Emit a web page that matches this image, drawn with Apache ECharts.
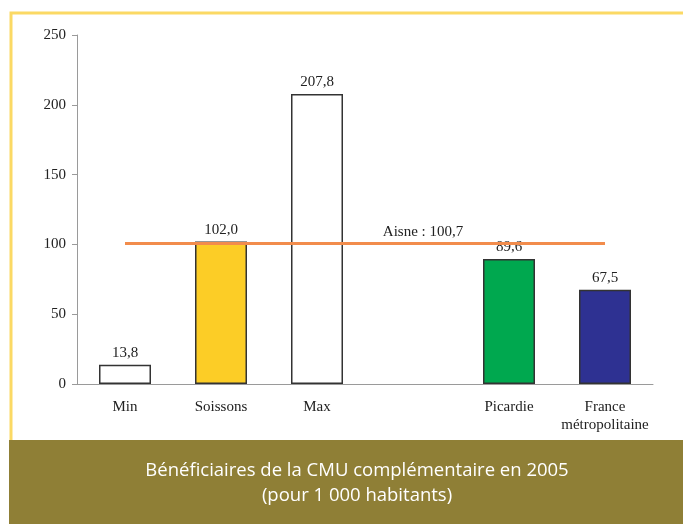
<!DOCTYPE html>
<html>
<head>
<meta charset="utf-8">
<script src="https://cdn.jsdelivr.net/npm/echarts@6/dist/echarts.min.js"></script>
<style>
html,body{margin:0;padding:0;background:#fff;}
#main{width:683px;height:524px;}
</style>
</head>
<body>
<div id="main"></div>
<script>
var categories = ['Min', 'Soissons', 'Max', '', 'Picardie', 'France\nmétropolitaine'];
var values = [13.8, 102.0, 207.8, '-', 89.6, 67.5];
var barColors = ['#ffffff', '#fccd26', '#ffffff', '#ffffff', '#00a84f', '#2e3192'];
var aisneValue = 100.7;
var aisneLabel = 'Aisne';
var yTicks = {min: 0, max: 250, interval: 50};

function frNum(v){
    return Number(v).toFixed(1).replace('.', ',');
}

var dom = document.getElementById('main');
var myChart = echarts.init(dom);

var barData = [];
var aisnePoint = [];
for (var i = 0; i < categories.length; i++) {
    barData.push({
        value: values[i],
        itemStyle: {color: barColors[i]}
    });
    // label of the reference line sits over the empty slot
    aisnePoint.push(categories[i] === '' ? aisneValue : '-');
}

var serif = '"Liberation Serif", "Times New Roman", serif';

var option = {
    animation: false,
    backgroundColor: '#ffffff',
    title: {
        text: 'Bénéficiaires de la CMU complémentaire en 2005\n(pour 1 000 habitants)',
        left: 352,
        textAlign: 'center',
        top: 453,
        textStyle: {
            color: '#ffffff',
            fontFamily: '"Open Sans", sans-serif',
            fontWeight: 'normal',
            fontSize: 18.5,
            lineHeight: 25
        }
    },
    graphic: [{
        type: 'rect',
        z: -10,
        shape: {x: 9, y: 440, width: 680, height: 90},
        style: {fill: '#8f7f36'}
    }, {
        type: 'polyline',
        z: -10,
        shape: {points: [[11, 440], [11, 13], [690, 13]]},
        style: {stroke: '#fbd964', lineWidth: 3, fill: null}
    }],
    grid: {
        left: 77,
        right: 30,
        top: 35,
        bottom: 140
    },
    xAxis: {
        type: 'category',
        data: categories,
        axisLine: {lineStyle: {color: '#9a9a9a', width: 1}},
        axisTick: {show: false},
        axisLabel: {
            color: '#222',
            fontFamily: serif,
            fontSize: 15,
            margin: 14,
            lineHeight: 18,
            interval: 0
        }
    },
    yAxis: {
        type: 'value',
        min: yTicks.min,
        max: yTicks.max,
        interval: yTicks.interval,
        axisLine: {show: true, lineStyle: {color: '#9a9a9a', width: 1}},
        axisTick: {show: true, length: 5, lineStyle: {color: '#9a9a9a'}},
        splitLine: {show: false},
        axisLabel: {
            color: '#222',
            fontFamily: serif,
            fontSize: 15,
            margin: 11
        }
    },
    series: [{
        type: 'bar',
        barWidth: 52,
        data: barData,
        itemStyle: {
            borderColor: '#333',
            borderWidth: 1.5
        },
        label: {
            show: true,
            position: 'top',
            distance: 4,
            color: '#222',
            fontFamily: serif,
            fontSize: 15,
            formatter: function(p){ return frNum(p.value); }
        },
        markLine: {
            silent: true,
            symbol: 'none',
            label: {show: false},
            lineStyle: {color: '#f28c4c', width: 3, type: 'solid'},
            data: [[
                {xAxis: categories[0], yAxis: aisneValue},
                {xAxis: categories[categories.length - 1], yAxis: aisneValue}
            ]]
        }
    }, {
        type: 'scatter',
        data: aisnePoint,
        symbolSize: 0,
        silent: true,
        z: 5,
        itemStyle: {opacity: 1},
        label: {
            show: true,
            position: 'top',
            distance: 4,
            offset: [10, 0],
            color: '#222',
            opacity: 1,
            fontFamily: serif,
            fontSize: 15,
            formatter: function(p){ return aisneLabel + ' : ' + frNum(p.value); }
        }
    }]
};

myChart.setOption(option);
window.addEventListener('resize', function(){
    myChart.resize();
});
</script>
</body>
</html>
